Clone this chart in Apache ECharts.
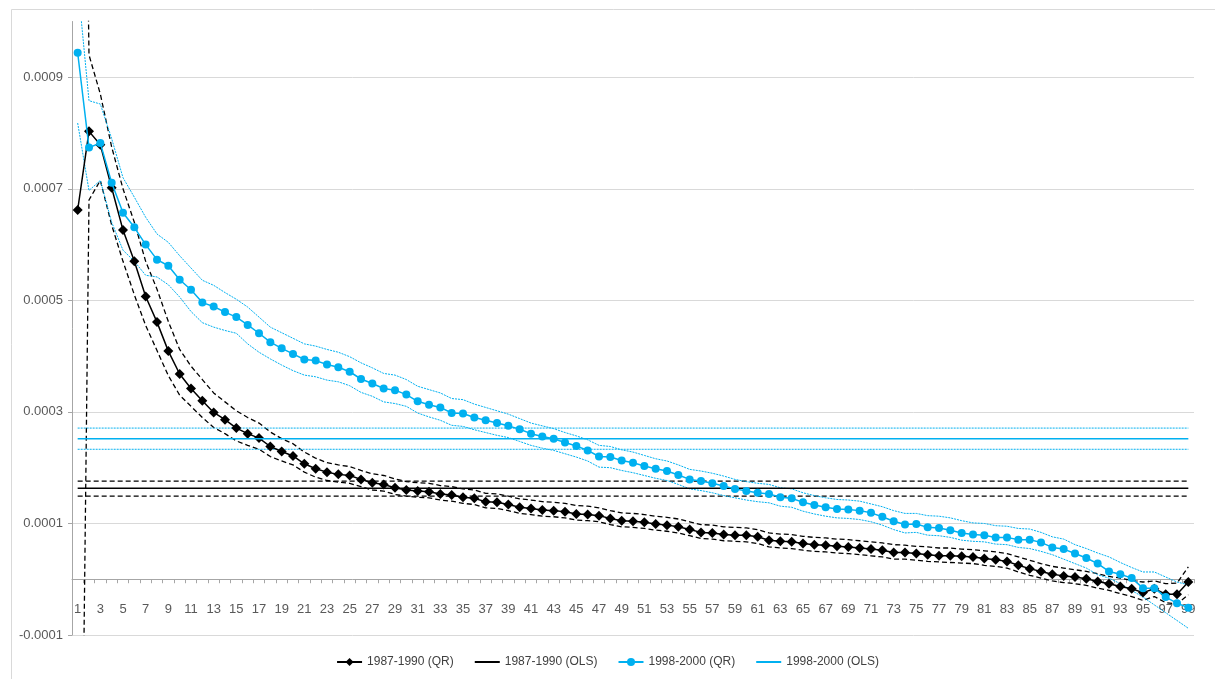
<!DOCTYPE html>
<html>
<head>
<meta charset="utf-8">
<script src="https://cdn.jsdelivr.net/npm/echarts@6/dist/echarts.min.js"></script>
<style>
  html, body { margin: 0; padding: 0; background: #ffffff; }
  #chart { width: 1215px; height: 679px; }
</style>
</head>
<body>
<div id="chart"></div>
<script>
// ---- categories (quantiles) ----
const categories = ['1','2','3','4','5','6','7','8','9','10','11','12','13','14','15','16','17','18','19','20',
'21','22','23','24','25','26','27','28','29','30','31','32','33','34','35','36','37','38','39','40',
'41','42','43','44','45','46','47','48','49','50','51','52','53','54','55','56','57','58','59','60',
'61','62','63','64','65','66','67','68','69','70','71','72','73','74','75','76','77','78','79','80',
'81','82','83','84','85','86','87','88','89','90','91','92','93','94','95','96','97','98','99'];

// ---- 1987-1990 quantile regression estimates ----
const qr1987 = [6.62e-4, 8.03e-4, 7.79e-4, 7.02e-4, 6.26e-4, 5.70e-4, 5.07e-4, 4.61e-4, 4.09e-4, 3.68e-4,
3.42e-4, 3.20e-4, 2.99e-4, 2.86e-4, 2.71e-4, 2.61e-4, 2.53e-4, 2.38e-4, 2.29e-4, 2.21e-4,
2.07e-4, 1.98e-4, 1.92e-4, 1.88e-4, 1.86e-4, 1.79e-4, 1.73e-4, 1.70e-4, 1.64e-4, 1.60e-4,
1.58e-4, 1.57e-4, 1.53e-4, 1.51e-4, 1.47e-4, 1.45e-4, 1.39e-4, 1.38e-4, 1.34e-4, 1.29e-4,
1.27e-4, 1.24e-4, 1.23e-4, 1.21e-4, 1.17e-4, 1.16e-4, 1.14e-4, 1.09e-4, 1.05e-4, 1.04e-4,
1.02e-4, 0.99e-4, 0.97e-4, 0.94e-4, 0.89e-4, 0.84e-4, 0.83e-4, 0.80e-4, 0.79e-4, 0.79e-4,
0.76e-4, 0.70e-4, 0.68e-4, 0.67e-4, 0.64e-4, 0.62e-4, 0.61e-4, 0.59e-4, 0.58e-4, 0.56e-4,
0.54e-4, 0.52e-4, 0.48e-4, 0.48e-4, 0.46e-4, 0.44e-4, 0.42e-4, 0.42e-4, 0.41e-4, 0.40e-4,
0.37e-4, 0.35e-4, 0.32e-4, 0.25e-4, 0.19e-4, 0.14e-4, 0.09e-4, 0.06e-4, 0.04e-4, 0.01e-4,
-0.04e-4, -0.08e-4, -0.13e-4, -0.17e-4, -0.24e-4, -0.17e-4, -0.27e-4, -0.27e-4, -0.05e-4];

const qr1987Upper = [24.0e-4, 9.40e-4, 8.70e-4, 7.75e-4, 7.00e-4, 6.40e-4, 5.70e-4, 5.20e-4, 4.62e-4, 4.12e-4,
3.82e-4, 3.58e-4, 3.34e-4, 3.18e-4, 3.02e-4, 2.90e-4, 2.80e-4, 2.64e-4, 2.52e-4, 2.43e-4,
2.28e-4, 2.17e-4, 2.09e-4, 2.05e-4, 2.02e-4, 1.95e-4, 1.89e-4, 1.86e-4, 1.80e-4, 1.75e-4,
1.73e-4, 1.72e-4, 1.68e-4, 1.66e-4, 1.62e-4, 1.60e-4, 1.54e-4, 1.53e-4, 1.49e-4, 1.44e-4,
1.42e-4, 1.39e-4, 1.38e-4, 1.36e-4, 1.32e-4, 1.31e-4, 1.28e-4, 1.23e-4, 1.19e-4, 1.18e-4,
1.16e-4, 1.13e-4, 1.11e-4, 1.08e-4, 1.03e-4, 0.98e-4, 0.97e-4, 0.94e-4, 0.93e-4, 0.92e-4,
0.89e-4, 0.83e-4, 0.81e-4, 0.80e-4, 0.77e-4, 0.75e-4, 0.74e-4, 0.72e-4, 0.71e-4, 0.69e-4,
0.67e-4, 0.65e-4, 0.62e-4, 0.61e-4, 0.59e-4, 0.58e-4, 0.56e-4, 0.56e-4, 0.54e-4, 0.53e-4,
0.51e-4, 0.49e-4, 0.46e-4, 0.40e-4, 0.34e-4, 0.28e-4, 0.23e-4, 0.20e-4, 0.17e-4, 0.14e-4,
0.10e-4, 0.05e-4, 0.02e-4, -0.02e-4, -0.05e-4, -0.03e-4, -0.08e-4, -0.07e-4, 0.22e-4];

const qr1987Lower = [-11.0e-4, 6.80e-4, 7.15e-4, 6.35e-4, 5.70e-4, 5.10e-4, 4.55e-4, 4.10e-4, 3.65e-4, 3.30e-4,
3.10e-4, 2.90e-4, 2.72e-4, 2.61e-4, 2.48e-4, 2.40e-4, 2.33e-4, 2.20e-4, 2.12e-4, 2.05e-4,
1.92e-4, 1.83e-4, 1.77e-4, 1.74e-4, 1.72e-4, 1.66e-4, 1.60e-4, 1.58e-4, 1.52e-4, 1.49e-4,
1.47e-4, 1.46e-4, 1.42e-4, 1.40e-4, 1.36e-4, 1.34e-4, 1.28e-4, 1.27e-4, 1.23e-4, 1.18e-4,
1.16e-4, 1.13e-4, 1.12e-4, 1.10e-4, 1.06e-4, 1.05e-4, 1.03e-4, 0.98e-4, 0.94e-4, 0.93e-4,
0.91e-4, 0.88e-4, 0.86e-4, 0.83e-4, 0.78e-4, 0.73e-4, 0.72e-4, 0.69e-4, 0.68e-4, 0.67e-4,
0.64e-4, 0.58e-4, 0.56e-4, 0.55e-4, 0.52e-4, 0.50e-4, 0.49e-4, 0.47e-4, 0.46e-4, 0.44e-4,
0.42e-4, 0.40e-4, 0.36e-4, 0.36e-4, 0.34e-4, 0.32e-4, 0.31e-4, 0.30e-4, 0.29e-4, 0.28e-4,
0.25e-4, 0.23e-4, 0.20e-4, 0.13e-4, 0.07e-4, 0.02e-4, -0.03e-4, -0.06e-4, -0.08e-4, -0.11e-4,
-0.16e-4, -0.20e-4, -0.26e-4, -0.31e-4, -0.38e-4, -0.31e-4, -0.42e-4, -0.44e-4, -0.28e-4];

// ---- 1998-2000 quantile regression estimates ----
const qr1998 = [9.44e-4, 7.74e-4, 7.82e-4, 7.11e-4, 6.57e-4, 6.31e-4, 6.00e-4, 5.73e-4, 5.62e-4, 5.37e-4,
5.19e-4, 4.96e-4, 4.89e-4, 4.79e-4, 4.70e-4, 4.56e-4, 4.41e-4, 4.25e-4, 4.14e-4, 4.04e-4,
3.94e-4, 3.92e-4, 3.85e-4, 3.80e-4, 3.72e-4, 3.59e-4, 3.51e-4, 3.42e-4, 3.39e-4, 3.31e-4,
3.19e-4, 3.13e-4, 3.08e-4, 2.98e-4, 2.97e-4, 2.90e-4, 2.85e-4, 2.80e-4, 2.75e-4, 2.69e-4,
2.61e-4, 2.56e-4, 2.52e-4, 2.45e-4, 2.39e-4, 2.31e-4, 2.20e-4, 2.19e-4, 2.13e-4, 2.09e-4,
2.03e-4, 1.98e-4, 1.94e-4, 1.87e-4, 1.79e-4, 1.76e-4, 1.72e-4, 1.67e-4, 1.62e-4, 1.58e-4,
1.55e-4, 1.53e-4, 1.47e-4, 1.45e-4, 1.38e-4, 1.33e-4, 1.29e-4, 1.26e-4, 1.25e-4, 1.23e-4,
1.19e-4, 1.12e-4, 1.04e-4, 0.98e-4, 0.99e-4, 0.93e-4, 0.92e-4, 0.88e-4, 0.83e-4, 0.80e-4,
0.79e-4, 0.75e-4, 0.75e-4, 0.71e-4, 0.71e-4, 0.66e-4, 0.57e-4, 0.54e-4, 0.46e-4, 0.38e-4,
0.28e-4, 0.14e-4, 0.09e-4, 0.02e-4, -0.16e-4, -0.16e-4, -0.32e-4, -0.43e-4, -0.51e-4];

const qr1998Upper = [10.7e-4, 8.58e-4, 8.52e-4, 7.90e-4, 7.20e-4, 6.85e-4, 6.49e-4, 6.19e-4, 6.04e-4, 5.80e-4,
5.58e-4, 5.36e-4, 5.27e-4, 5.14e-4, 5.02e-4, 4.88e-4, 4.70e-4, 4.52e-4, 4.42e-4, 4.32e-4,
4.22e-4, 4.18e-4, 4.12e-4, 4.07e-4, 3.99e-4, 3.88e-4, 3.79e-4, 3.69e-4, 3.66e-4, 3.58e-4,
3.46e-4, 3.40e-4, 3.34e-4, 3.24e-4, 3.22e-4, 3.14e-4, 3.08e-4, 3.02e-4, 2.96e-4, 2.88e-4,
2.80e-4, 2.75e-4, 2.70e-4, 2.63e-4, 2.57e-4, 2.50e-4, 2.40e-4, 2.38e-4, 2.32e-4, 2.28e-4,
2.22e-4, 2.16e-4, 2.12e-4, 2.05e-4, 1.97e-4, 1.94e-4, 1.90e-4, 1.85e-4, 1.79e-4, 1.75e-4,
1.72e-4, 1.70e-4, 1.64e-4, 1.62e-4, 1.55e-4, 1.50e-4, 1.46e-4, 1.43e-4, 1.42e-4, 1.40e-4,
1.35e-4, 1.30e-4, 1.23e-4, 1.18e-4, 1.18e-4, 1.14e-4, 1.13e-4, 1.10e-4, 1.05e-4, 1.01e-4,
1.00e-4, 0.96e-4, 0.95e-4, 0.91e-4, 0.90e-4, 0.84e-4, 0.76e-4, 0.72e-4, 0.62e-4, 0.55e-4,
0.47e-4, 0.40e-4, 0.30e-4, 0.21e-4, 0.13e-4, 0.13e-4, 0.04e-4, -0.05e-4, -0.10e-4];

const qr1998Lower = [8.18e-4, 6.97e-4, 7.15e-4, 6.40e-4, 5.90e-4, 5.70e-4, 5.45e-4, 5.42e-4, 5.28e-4, 5.06e-4,
4.80e-4, 4.60e-4, 4.52e-4, 4.46e-4, 4.41e-4, 4.22e-4, 4.07e-4, 3.95e-4, 3.84e-4, 3.74e-4,
3.66e-4, 3.63e-4, 3.57e-4, 3.54e-4, 3.47e-4, 3.35e-4, 3.28e-4, 3.18e-4, 3.15e-4, 3.10e-4,
2.98e-4, 2.91e-4, 2.85e-4, 2.76e-4, 2.74e-4, 2.68e-4, 2.63e-4, 2.58e-4, 2.54e-4, 2.47e-4,
2.40e-4, 2.35e-4, 2.31e-4, 2.25e-4, 2.19e-4, 2.12e-4, 2.01e-4, 2.00e-4, 1.95e-4, 1.91e-4,
1.86e-4, 1.81e-4, 1.77e-4, 1.70e-4, 1.62e-4, 1.59e-4, 1.55e-4, 1.50e-4, 1.46e-4, 1.42e-4,
1.39e-4, 1.37e-4, 1.31e-4, 1.29e-4, 1.22e-4, 1.17e-4, 1.13e-4, 1.10e-4, 1.09e-4, 1.07e-4,
1.03e-4, 0.97e-4, 0.89e-4, 0.83e-4, 0.84e-4, 0.79e-4, 0.78e-4, 0.75e-4, 0.70e-4, 0.68e-4,
0.67e-4, 0.63e-4, 0.62e-4, 0.57e-4, 0.55e-4, 0.50e-4, 0.44e-4, 0.36e-4, 0.28e-4, 0.20e-4,
0.08e-4, 0.02e-4, -0.08e-4, -0.20e-4, -0.32e-4, -0.46e-4, -0.60e-4, -0.74e-4, -0.88e-4];

// ---- OLS estimates and bounds ----
const ols1987 = 1.63e-4, ols1987Upper = 1.76e-4, ols1987Lower = 1.49e-4;
const ols1998 = 2.52e-4, ols1998Upper = 2.71e-4, ols1998Lower = 2.33e-4;

// ---- y-axis ticks ----
const yMin = -0.0001, yMax = 0.001, yInterval = 0.0002;

const BLACK = '#000000';
const BLUE = '#00B0F0';
const flat = v => categories.map(() => v);

function band(name, data, color, type, width) {
  return {
    name: name, type: 'line', data: data, symbol: 'none', silent: true,
    lineStyle: { color: color, width: width, type: type },
    itemStyle: { color: color }, z: 2
  };
}

const chart = echarts.init(document.getElementById('chart'), null, { renderer: 'canvas' });
const labelFont = { fontFamily: 'Liberation Sans, Arial, sans-serif', fontSize: 13, color: '#595959' };

const GRID_TOP = 21.5, GRID_BOTTOM = 44;
const plotH = 679 - GRID_TOP - GRID_BOTTOM;
// distance from bottom of plot (-0.0001) up to the zero line
const zeroOffset = plotH * (0 - yMin) / (yMax - yMin);

chart.setOption({
  animation: false,
  backgroundColor: '#ffffff',
  graphic: [{
    type: 'rect', left: 9, top: 7, silent: true,
    shape: { width: 1230, height: 700 },
    style: { fill: 'none', stroke: '#d9d9d9', lineWidth: 1 }
  }],
  grid: { left: 72, right: 21, top: GRID_TOP, bottom: GRID_BOTTOM, containLabel: false },
  legend: {
    data: [
      { name: '1987-1990 (QR)' },
      { name: '1987-1990 (OLS)', itemStyle: { color: 'rgba(0,0,0,0)', borderWidth: 0 } },
      { name: '1998-2000 (QR)' },
      { name: '1998-2000 (OLS)', itemStyle: { color: 'rgba(0,0,0,0)', borderWidth: 0 } }
    ],
    bottom: 6, left: 'center', itemWidth: 25, itemHeight: 10, itemGap: 20,
    textStyle: { fontFamily: 'Liberation Sans, Arial, sans-serif', fontSize: 12, color: '#404040' }
  },
  xAxis: {
    type: 'category', data: categories, boundaryGap: true,
    position: 'bottom', offset: -zeroOffset,
    axisLine: { onZero: false, lineStyle: { color: '#a6a6a6', width: 1 } },
    axisTick: { show: true, interval: 0, length: 4, inside: false, lineStyle: { color: '#a6a6a6' } },
    axisLabel: Object.assign({ interval: 1, margin: 24 }, labelFont),
    splitLine: { show: false }
  },
  yAxis: {
    type: 'value', min: yMin, max: yMax, interval: yInterval,
    axisLine: { show: true, lineStyle: { color: '#a6a6a6', width: 1 } },
    axisTick: { show: true, length: 4, lineStyle: { color: '#a6a6a6' } },
    axisLabel: Object.assign({
      margin: 9, showMaxLabel: false,
      formatter: v => (Math.abs(v - yMax) < 1e-9 ? '' : v.toFixed(4))
    }, labelFont),
    splitLine: { show: true, showMaxLine: false, lineStyle: { color: '#d9d9d9', width: 1 } }
  },
  series: [
    band('1987-1990 upper', qr1987Upper, BLACK, [5, 3], 1.3),
    band('1987-1990 lower', qr1987Lower, BLACK, [5, 3], 1.3),
    band('1987-1990 OLS upper', flat(ols1987Upper), BLACK, [5, 3], 1.3),
    band('1987-1990 OLS lower', flat(ols1987Lower), BLACK, [5, 3], 1.3),
    {
      name: '1987-1990 (QR)', type: 'line', data: qr1987,
      symbol: 'diamond', symbolSize: 10, showAllSymbol: true,
      lineStyle: { color: BLACK, width: 1.5 }, itemStyle: { color: BLACK }, z: 3
    },
    {
      name: '1987-1990 (OLS)', type: 'line', data: flat(ols1987), symbol: 'none',
      lineStyle: { color: BLACK, width: 1.5 }, itemStyle: { color: BLACK }, z: 3
    },
    band('1998-2000 upper', qr1998Upper, BLUE, [2, 1], 1),
    band('1998-2000 lower', qr1998Lower, BLUE, [2, 1], 1),
    band('1998-2000 OLS upper', flat(ols1998Upper), BLUE, [2, 1], 1),
    band('1998-2000 OLS lower', flat(ols1998Lower), BLUE, [2, 1], 1),
    {
      name: '1998-2000 (QR)', type: 'line', data: qr1998,
      symbol: 'circle', symbolSize: 8, showAllSymbol: true,
      lineStyle: { color: BLUE, width: 1.5 }, itemStyle: { color: BLUE, borderWidth: 0 }, z: 4
    },
    {
      name: '1998-2000 (OLS)', type: 'line', data: flat(ols1998), symbol: 'none',
      lineStyle: { color: BLUE, width: 1.5 }, itemStyle: { color: BLUE }, z: 4
    }
  ]
});
</script>
</body>
</html>
